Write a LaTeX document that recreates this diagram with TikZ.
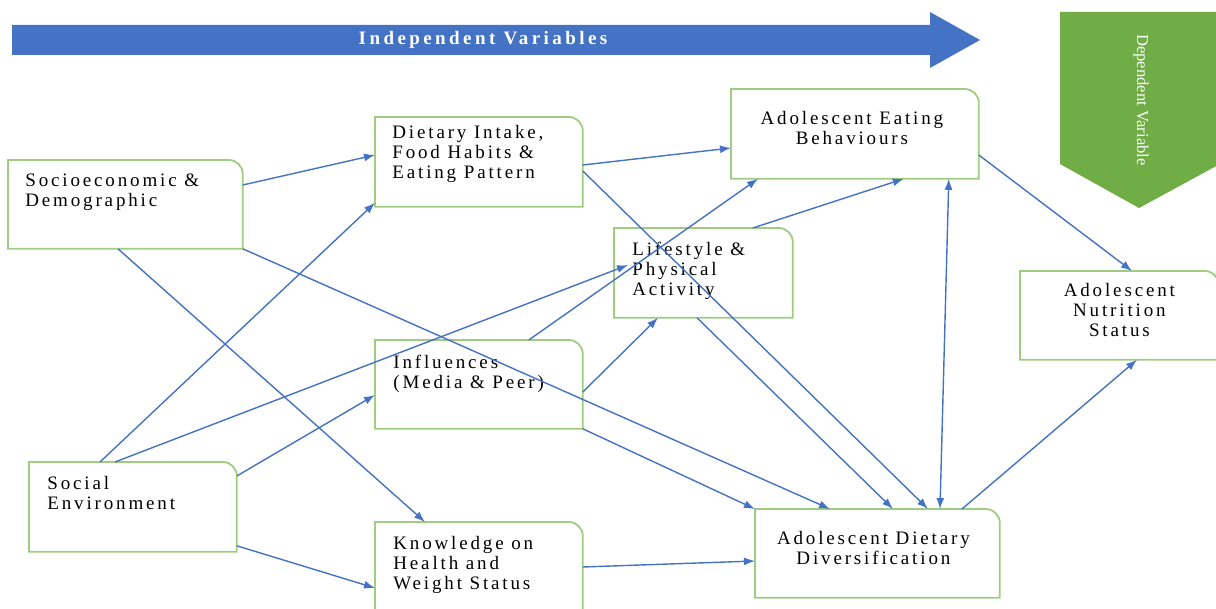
\documentclass[tikz,border=0pt]{standalone}
\usepackage{fontspec}
\setmainfont{Liberation Serif}
\newfontfamily\boxfont[LetterSpace=15]{Liberation Serif}
\newfontfamily\headfont[LetterSpace=18]{Liberation Serif}
\usetikzlibrary{arrows.meta, positioning}

\definecolor{arrowblue}{RGB}{68,114,196}
\definecolor{depgreen}{RGB}{112,173,71}
\definecolor{boxgreen}{RGB}{160,204,130}

\begin{document}
\begin{tikzpicture}[
    x=0.5pt, y=-0.5pt,
    >={Latex[length=5.5pt, width=4pt]},
    box/.style={anchor=north west, inner sep=0pt, minimum height=44.5pt},
    txt/.style={inner sep=0pt, align=left, font=\fontsize{9.5}{10}\selectfont\boxfont},
    ctxt/.style={txt, align=center},
    boxline/.style={draw=boxgreen, line width=0.9pt},
    arr/.style={->, draw=arrowblue, line width=0.7pt}
]
\path[use as bounding box] (0,0) rectangle (1216,609);
\clip (0,0) rectangle (1216,609);

% banners
\fill[arrowblue] (12,25) -- (930,25) -- (930,12) -- (980,40) -- (930,68) -- (930,55) -- (12,55) -- cycle;
\node[text=white, font=\fontsize{9.5}{10}\selectfont\headfont\bfseries] (indep) at (483,40) {Independent Variables};
\fill[depgreen] (1060,12) -- (1220,12) -- (1220,164) -- (1139,208) -- (1060,164) -- cycle;
\node[text=white, rotate=-90, font=\fontsize{8.3}{10}\selectfont] (dep) at (1141,100) {Dependent Variable};

% boxes
\node[box, minimum width=117pt, minimum height=44pt] (socio) at (8,160) {};
\node[box, minimum width=103.5pt] (diet) at (375,117) {};
\node[box, minimum width=123.5pt] (eat) at (731,89) {};
\node[box, minimum width=89pt] (life) at (614,228) {};
\node[box, minimum width=103.5pt, minimum height=44pt] (infl) at (375,340) {};
\node[box, minimum width=103.5pt] (social) at (29,462) {};
\node[box, minimum width=103.5pt, minimum height=45pt] (know) at (375,522) {};
\node[box, minimum width=122pt, minimum height=44pt] (div) at (755,509) {};
\node[box, minimum width=99pt, minimum height=44pt] (nutr) at (1020,271) {};

\foreach \n in {socio, diet, eat, life, infl, social, know, div, nutr}
  \draw[boxline] (\n.south west) -- (\n.north west) -- ([xshift=-7pt]\n.north east)
    arc[start angle=90, end angle=0, radius=7pt] -- (\n.south east) -- cycle;

% texts
\node[txt, below right=6.5pt and 8.5pt of socio.north west] (socioT) {Socioeconomic \&\\Demographic};
\node[txt, below right=4pt and 8.5pt of diet.north west] (dietT) {Dietary Intake,\\Food Habits \&\\Eating Pattern};
\node[ctxt, below=11pt of eat.north, xshift=-1.5pt] (eatT) {Adolescent Eating\\Behaviours};
\node[txt, below right=7pt and 9pt of life.north west] (lifeT) {Lifestyle \&\\Physical\\Activity};
\node[txt, below right=7.5pt and 9pt of infl.north west] (inflT) {Influences\\(Media \& Peer)};
\node[txt, below right=7pt and 9pt of social.north west] (socialT) {Social\\Environment};
\node[txt, below right=7pt and 9pt of know.north west] (knowT) {Knowledge on\\Health and\\Weight Status};
\node[ctxt, below=11pt of div.north, xshift=-2pt] (divT) {Adolescent Dietary\\Diversification};
\node[ctxt, below=6pt of nutr.north] (nutrT) {Adolescent\\Nutrition\\Status};

% connectors
\draw[arr] ([yshift=-12.5pt]socio.north east) -- ([yshift=-19pt]diet.north west);
\draw[arr] ([xshift=55pt]socio.south west) -- ([xshift=25pt]know.north west);
\draw[arr] (socio.south east) -- ([xshift=37.5pt]div.north west);
\draw[arr] ([yshift=-24pt]diet.north east) -- ([yshift=-29.5pt]eat.north west);
\draw[arr] ([yshift=-27pt]diet.north east) -- ([xshift=86.5pt]div.north west);
\draw[arr] ([xshift=35.5pt]social.north west) -- ([yshift=2pt]diet.south west);
\draw[arr] ([xshift=43pt]social.north west) -- ([shift={(7pt,-18.5pt)}]life.north west);
\draw[arr] ([yshift=-7pt]social.north east) -- ([yshift=-27.5pt]infl.north west);
\draw[arr] ([yshift=3pt]social.south east) -- ([yshift=-33pt]know.north west);
\draw[arr] ([xshift=-27pt]infl.north east) -- ([xshift=13.5pt]eat.south west);
\draw[arr] ([yshift=-26pt]infl.north east) -- ([xshift=22pt]life.south west);
\draw[arr] (infl.south east) -- (div.north west);
\draw[arr] ([xshift=-20pt]life.north east) -- ([xshift=-37.5pt]eat.south east);
\draw[arr] ([xshift=41.5pt]life.south west) -- ([xshift=69pt]div.north west);
\draw[arr, <->] ([xshift=-15pt]eat.south east) -- ([xshift=92.5pt]div.north west);
\draw[arr] ([yshift=-33pt]eat.north east) -- ([xshift=56pt]nutr.north west);
\draw[arr] ([xshift=103.5pt]div.north west) -- ([xshift=58.5pt]nutr.south west);
\draw[arr] ([yshift=-22.5pt]know.north east) -- ([yshift=-26pt]div.north west);
\end{tikzpicture}
\end{document}
